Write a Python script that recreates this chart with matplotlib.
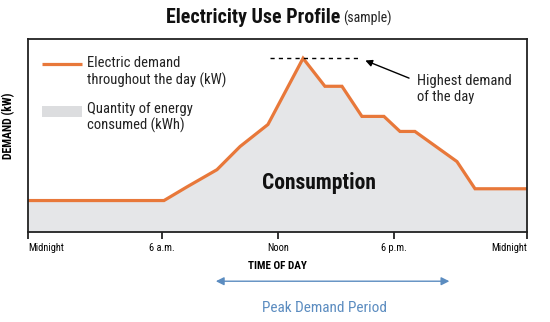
import matplotlib
matplotlib.use("Agg")
import matplotlib.pyplot as plt
from matplotlib.patches import Rectangle

# ---- data ----
hours = [0.0, 6.54, 7.65, 9.09, 10.20, 11.54, 13.23, 14.28, 15.10, 16.06, 17.12,
         17.89, 18.61, 20.63, 21.50, 24.0]
demand = [16.3, 16.3, 23.4, 32.3, 44.3, 55.7, 90.0, 75.5, 75.5, 59.9, 59.9,
          52.1, 52.1, 36.5, 22.4, 22.4]
tick_pos = [0.0, 6.44, 12.02, 17.6, 24.0]
tick_labels = ["Midnight", "6 a.m.", "Noon", "6 p.m.", "Midnight"]
peak_period = [8.9, 20.4]

NARROW = ["Roboto Condensed", "Liberation Sans Narrow", "Roboto", "DejaVu Sans"]
ORANGE = "#e8783a"
FILL = "#e5e6e8"
BLUE = "#5b8cc0"
TXT = "#222222"

fig = plt.figure(figsize=(5.5, 3.22), dpi=100)
ax = fig.add_axes([28/550, 1-232/322, 499/550, 193/322])
ax.set_xlim(0, 24)
ax.set_ylim(0, 100)

ax.fill_between(hours, 0, demand, color=FILL, lw=0)
ax.plot(hours, demand, color=ORANGE, lw=2.3, solid_joinstyle="miter")

peak_val = max(demand)
ax.plot([11.64, 15.97], [peak_val]*2, color="black", lw=1, ls=(0, (3, 3)))
ax.annotate("", xy=(16.1, 89.4), xytext=(18.45, 79.2),
            arrowprops=dict(arrowstyle="-|>", color="black", lw=1, mutation_scale=10))
ax.text(18.7, 74, "Highest demand\nof the day", family=NARROW, fontsize=10.5,
        va="center", ha="left", linespacing=1.15, color=TXT)

ax.text(14.0, 25.5, "Consumption", family=NARROW, fontsize=15.5, fontweight="bold",
        ha="center", va="center", color="#111111")

# legend
ax.plot([0.66, 2.6], [87.3]*2, color=ORANGE, lw=2.3, solid_capstyle="butt")
ax.text(2.85, 82.9, "Electric demand\nthroughout the day (kW)", family=NARROW,
        fontsize=10.5, va="center", ha="left", linespacing=1.15, color=TXT)
ax.add_patch(Rectangle((0.66, 59.5), 1.94, 6.0, color="#dcdddf", lw=0))
ax.text(2.85, 59.1, "Quantity of energy\nconsumed (kWh)", family=NARROW,
        fontsize=10.5, va="center", ha="left", linespacing=1.15, color=TXT)

# axes styling
for s in ax.spines.values():
    s.set_linewidth(1.3)
    s.set_color(TXT)
ax.set_yticks([])
ax.set_xticks(tick_pos)
ax.set_xticklabels(tick_labels, family=NARROW, fontsize=7.5)
labs = ax.get_xticklabels()
labs[0].set_ha("left")
labs[-1].set_ha("right")
ax.tick_params(axis="x", length=5, width=1.3, pad=3, color=TXT)
ax.set_xlabel("TIME OF DAY", family=NARROW, fontsize=8, fontweight="bold", labelpad=6)
ax.set_ylabel("DEMAND (kW)", family=NARROW, fontsize=8.5, fontweight="bold", labelpad=6)
ax.yaxis.set_label_coords(-13/499, 0.55)

# peak demand period arrow
ax.annotate("", xy=(peak_period[1], -0.255), xytext=(peak_period[0], -0.255),
            xycoords=("data", "axes fraction"), textcoords=("data", "axes fraction"),
            arrowprops=dict(arrowstyle="<|-|>", color=BLUE, lw=1, mutation_scale=12),
            annotation_clip=False)
fig.text(325/550, 1-308/322, "Peak Demand Period", family=NARROW, fontsize=11,
         color=BLUE, ha="center", va="center")

# title
t1 = fig.text(166/550, 1-22.7/322, "Electricity Use Profile", family=NARROW, fontsize=14.4,
              fontweight="bold", ha="left", va="baseline", color="#111111")
fig.canvas.draw()
bb = t1.get_window_extent(fig.canvas.get_renderer())
fig.text((bb.x1 + 3)/550, 1-22.7/322, "(sample)", family=NARROW, fontsize=10,
         ha="left", va="baseline", color=TXT)

fig.savefig("out.png", dpi=100)
